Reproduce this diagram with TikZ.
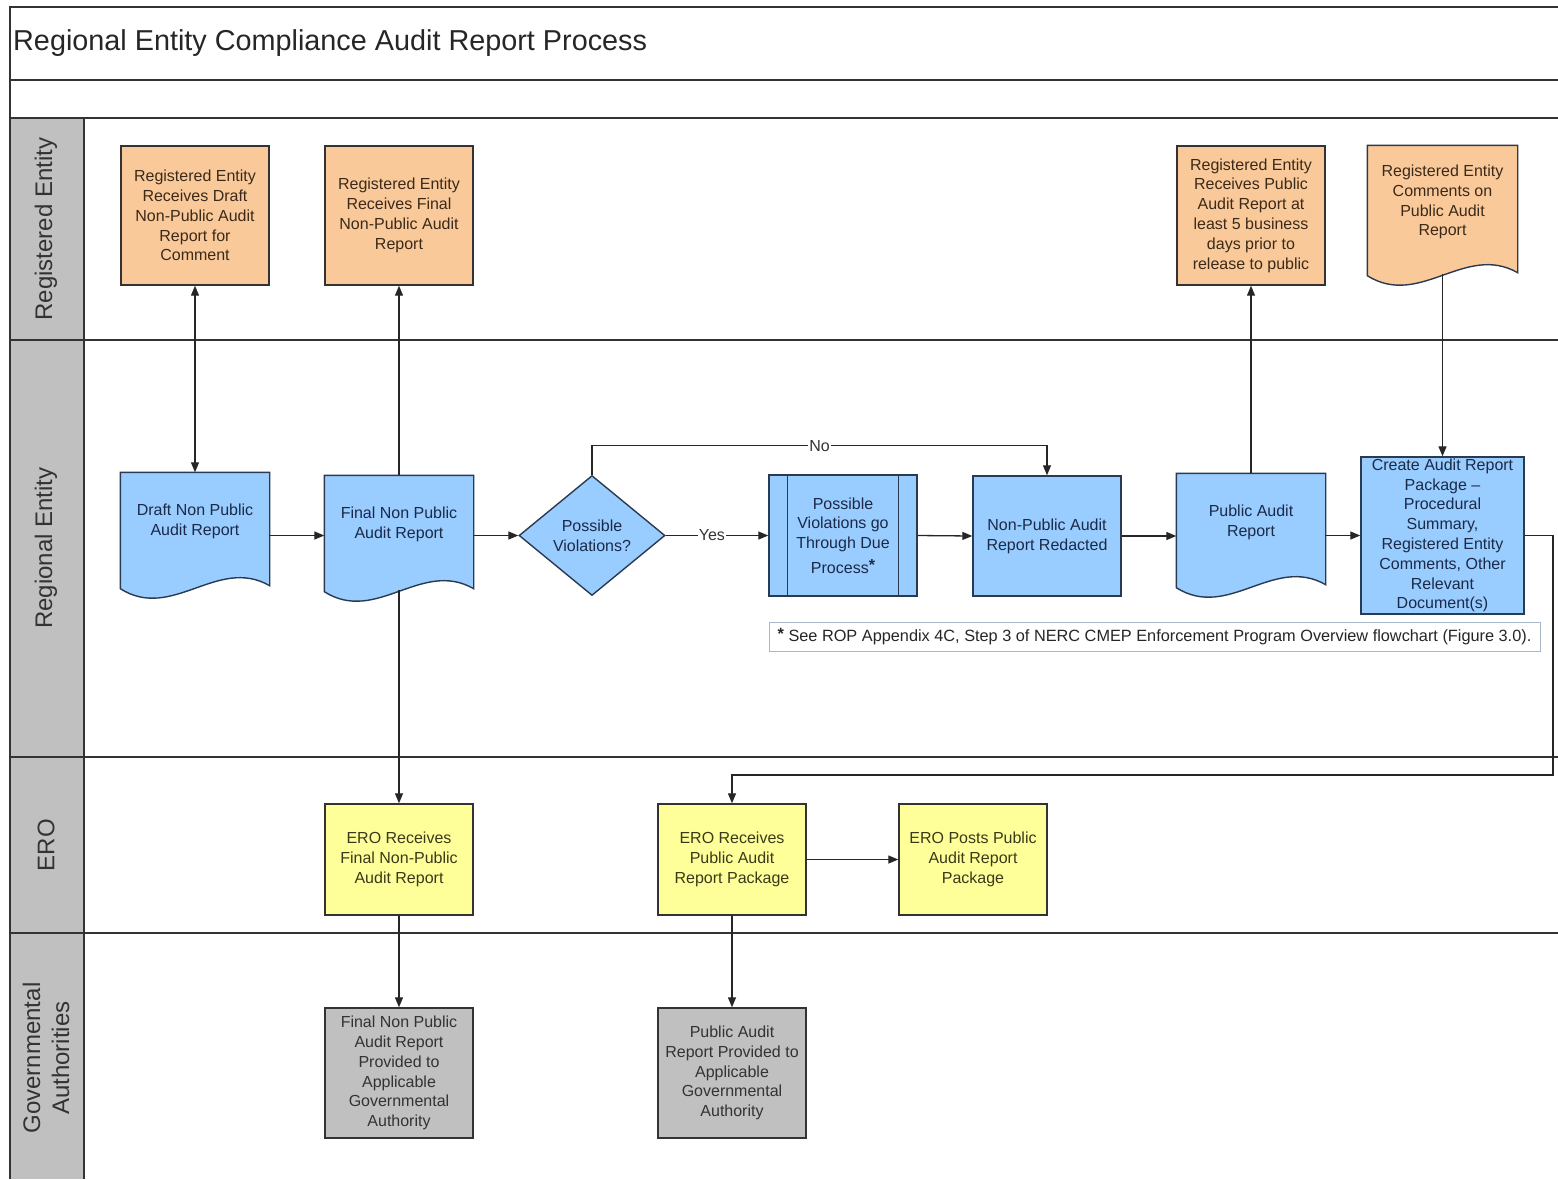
\documentclass[tikz,border=0pt]{standalone}
\usepackage{fontspec}
\setmainfont{Liberation Sans}
\usetikzlibrary{arrows.meta,shapes.geometric,calc,backgrounds}
\definecolor{blueF}{HTML}{99CCFF}
\definecolor{blueT}{HTML}{1B2A48}
\definecolor{blueL}{HTML}{2A3A50}
\definecolor{orangeF}{HTML}{F9C99A}
\definecolor{orangeT}{HTML}{3B2A1A}
\definecolor{yellowF}{HTML}{FFFF99}
\definecolor{yellowT}{HTML}{3A3A1A}
\definecolor{grayF}{HTML}{C0C0C0}
\definecolor{grayT}{HTML}{333333}
\definecolor{laneL}{HTML}{333333}
\definecolor{footL}{HTML}{A8B8C8}
\newcommand\nodefont{\fontsize{16}{19.8}\selectfont}
\newcommand\docbg[3]{%
  \begin{scope}[on background layer]
  \draw[line width=1.4pt, draw=blueL, fill=#3] (#1.north west) -- (#1.north east) -- ($(#1.south east)+(0,#2)$)
   .. controls ($(#1.south west)!0.65!(#1.south east)+(0,#2-30)$) and ($(#1.south west)!0.35!(#1.south east)+(0,#2+36)$)
   .. ($(#1.south west)+(0,#2+3)$) -- cycle;
  \end{scope}}
\tikzset{
  base/.style={align=center, inner sep=0pt, font=\nodefont, line width=1.4pt},
  rebox/.style={base, draw=laneL, fill=orangeF, text=orangeT, minimum width=148pt, minimum height=139pt},
  bluebox/.style={base, draw=blueL, fill=blueF, text=blueT, minimum width=148pt, minimum height=120pt},
  docnode/.style={base, text=blueT, minimum width=148pt, minimum height=96pt},
  erobox/.style={base, draw=laneL, fill=yellowF, text=yellowT, minimum width=148pt, minimum height=111pt},
  govbox/.style={base, draw=laneL, fill=grayF, text=grayT, minimum width=148pt, minimum height=130pt},
  lanelbl/.style={rotate=90, font=\fontsize{24}{27}\selectfont, text=grayT, align=center},
  lanerule/.style={line width=1.5pt, draw=laneL},
  arr/.style={line width=1.3pt, draw=black!85, -{Triangle[length=10pt,width=8pt]}},
  lbl/.style={fill=white, inner sep=1pt, font=\nodefont, text=grayT}
}
\begin{document}
\begin{tikzpicture}[x=1pt,y=-1pt]
\useasboundingbox (0,0) rectangle (1558,1179);
% frame and lanes
\fill[grayF] (10,118) rectangle (84,1179);
\draw[lanerule] (10,1179) -- (10,7) -- (1558,7);
\draw[lanerule] (10,80) -- (1558,80);
\draw[lanerule] (10,118) -- (1558,118);
\draw[lanerule] (10,340) -- (1558,340);
\draw[lanerule] (10,757) -- (1558,757);
\draw[lanerule] (10,933) -- (1558,933);
\draw[lanerule] (84,118) -- (84,1179);
\node[anchor=west, font=\fontsize{28.8}{32}\selectfont, text=black!85, inner sep=0pt] (title) at (13,43) {Regional Entity Compliance Audit Report Process};
\node[lanelbl] (l1) at (46,229) {Registered Entity};
\node[lanelbl] (l2) at (46,548) {Regional Entity};
\node[lanelbl] (l3) at (46,845) {ERO};
\node[lanelbl, font=\fontsize{24}{29}\selectfont] (l4) at (46,1058) {Governmental\\Authorities};
% registered entity lane
\node[rebox] (reDraft) at (195,215.5) {Registered Entity\\Receives Draft\\Non-Public Audit\\Report for\\Comment};
\node[rebox] (reFinal) at (399,215.5) {Registered Entity\\Receives Final\\Non-Public Audit\\Report};
\node[rebox] (rePublic) at (1251,215.5) {Registered Entity\\Receives Public\\Audit Report at\\least 5 business\\days prior to\\release to public};
\node[docnode, text=orangeT, minimum width=149pt, minimum height=112pt] (reComments) at (1442.5,202) {Registered Entity\\Comments on\\Public Audit\\Report};
\docbg{reComments}{14}{orangeF}
% regional entity lane
\node[docnode] (draft) at (195,521) {Draft Non Public\\Audit Report};
\docbg{draft}{16}{blueF}
\node[docnode] (final) at (399,524) {Final Non Public\\Audit Report};
\docbg{final}{16}{blueF}
\node[base, diamond, aspect=1.22, draw=blueL, fill=blueF, text=blueT, minimum width=146pt, minimum height=120pt] (dia) at (592,535.5) {Possible\\Violations?};
\node[bluebox, minimum height=121pt] (proc) at (843,535.5) {Possible\\Violations go\\Through Due\\[5pt]Process\raisebox{3pt}{\textbf{*}}};
\draw[line width=1.4pt, draw=blueL] ($(proc.north west)+(19,0)$) -- ($(proc.south west)+(19,0)$);
\draw[line width=1.4pt, draw=blueL] ($(proc.north east)+(-19,0)$) -- ($(proc.south east)+(-19,0)$);
\node[bluebox] (redact) at (1047,536) {Non-Public Audit\\Report Redacted};
\node[docnode] (pubdoc) at (1251,522) {Public Audit\\Report};
\docbg{pubdoc}{14}{blueF}
\node[bluebox, minimum width=163pt, minimum height=157pt] (pkg) at (1442.5,535.5) {Create Audit Report\\Package --\\Procedural\\Summary,\\Registered Entity\\Comments, Other\\Relevant\\Document(s)};
\node[draw=footL, line width=1pt, fill=white, minimum width=771pt, minimum height=29pt, inner sep=0pt, font=\fontsize{16.3}{18}\selectfont, text=black!85] (foot) at (1154.5,636.5) {\raisebox{2pt}{\textbf{*}}\ See ROP Appendix 4C, Step 3 of NERC CMEP Enforcement Program Overview flowchart (Figure 3.0).};
% ERO lane
\node[erobox] (eroF) at (399,859.5) {ERO Receives\\Final Non-Public\\Audit Report};
\node[erobox] (eroP) at (732,859.5) {ERO Receives\\Public Audit\\Report Package};
\node[erobox] (eroPost) at (973,859.5) {ERO Posts Public\\Audit Report\\Package};
% governmental lane
\node[govbox] (govF) at (399,1073) {Final Non Public\\Audit Report\\Provided to\\Applicable\\Governmental\\Authority};
\node[govbox] (govP) at (732,1073) {Public Audit\\Report Provided to\\Applicable\\Governmental\\Authority};
% connectors
\draw[arr, {Triangle[length=10pt,width=8pt]}-{Triangle[length=10pt,width=8pt]}] (draft.north) -- (reDraft.south);
\draw[arr] (draft.east |- dia.west) -- (final.west |- dia.west);
\draw[arr] (final.north) -- (reFinal.south);
\draw[arr] ($(final.south)+(0,17)$) -- (eroF.north);
\draw[arr] (final.east |- dia.west) -- (dia.west);
\draw[arr] (dia.east) -- node[lbl, pos=0.45]{Yes} (proc.west);
\draw[arr] (dia.north) -- ++(0,-29) -| node[lbl, pos=0.25]{No} (redact.north);
\draw[arr] (proc.east) -- (redact.west);
\draw[arr] (redact.east) -- (pubdoc.west |- redact.east);
\draw[arr] (pubdoc.north) -- (rePublic.south);
\draw[arr] ($(reComments.south)+(0,15)$) -- (pkg.north);
\draw[arr] (pubdoc.east |- pkg.west) -- (pkg.west);
\coordinate (loopR) at (1553,775);
\draw[arr] (pkg.east) -| (loopR) -| (eroP.north);
\draw[arr] (eroP.east) -- (eroPost.west);
\draw[arr] (eroF.south) -- (govF.north);
\draw[arr] (eroP.south) -- (govP.north);
\end{tikzpicture}
\end{document}
